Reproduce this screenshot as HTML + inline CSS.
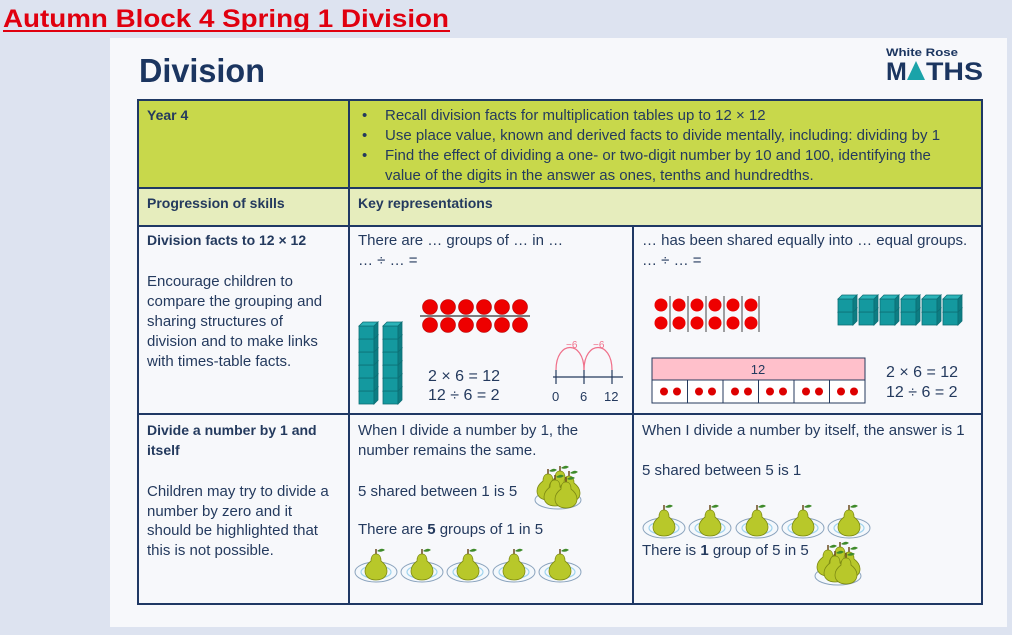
<!DOCTYPE html>
<html><head><meta charset="utf-8"><style>
html,body{margin:0;padding:0;background:#dde3f0;}
svg{display:block}
text{font-family:"Liberation Sans",sans-serif;fill:#243a5e;font-size:15px}
.b{font-weight:bold;font-size:14px}
.eq{font-size:16px}
</style></head><body>
<svg width="1012" height="635" viewBox="0 0 1012 635" xmlns="http://www.w3.org/2000/svg">
<defs>
<g id="pear">
<path d="M0,-14 l0,-5" stroke="#6b4a1e" stroke-width="1.5"/>
<path d="M1,-17 q5,-4 8,-1 q-4,3 -8,1z" fill="#3f8a2a"/>
<path d="M0,-14 c-4,0 -5,4 -5,7 c-4,3 -6,6 -6,10 c0,6 5,9 11,9 c6,0 11,-3 11,-9 c0,-4 -2,-7 -6,-10 c0,-3 -1,-7 -5,-7z" fill="#b8c82a" stroke="#7d8a14" stroke-width="0.8"/>
</g>
<g id="plate">
<ellipse cx="0" cy="6" rx="21" ry="10" fill="#f4f8fc" stroke="#8aa3bd" stroke-width="1"/>
<ellipse cx="0" cy="6" rx="15" ry="6.5" fill="none" stroke="#9fd3ee" stroke-width="1.2"/>
<use href="#pear" x="0" y="2"/>
</g>
<g id="group">
<ellipse cx="0" cy="10" rx="23" ry="9" fill="#f4f8fc" stroke="#8aa3bd"/>
<use href="#pear" x="-10" y="-2"/>
<use href="#pear" x="2" y="-5"/>
<use href="#pear" x="11" y="0"/>
<use href="#pear" x="-3" y="4"/>
<use href="#pear" x="8" y="6"/>
</g>
<g id="cube">
<rect x="0" y="0" width="15" height="13" fill="#14999f" stroke="#0d6f75" stroke-width="0.8"/>
<path d="M0,0 l4,-4 h15 l-4,4z" fill="#2bb3b8" stroke="#0d6f75" stroke-width="0.8"/>
<path d="M15,0 l4,-4 v13 l-4,4z" fill="#0d7d83" stroke="#0d6f75" stroke-width="0.8"/>
</g>
</defs>

<text x="3" y="27" class="b" style="font-size:25px;fill:#e0000f" textLength="446" lengthAdjust="spacingAndGlyphs">Autumn Block 4 Spring 1 Division</text>
<line x1="3" y1="31" x2="450" y2="31" stroke="#e0000f" stroke-width="2"/>

<rect x="110" y="38" width="897" height="589" fill="#f7f8fb"/>
<text x="139" y="82" class="b" style="font-size:33px;fill:#1b3560" textLength="126" lengthAdjust="spacingAndGlyphs">Division</text>
<text x="886" y="56" class="b" style="font-size:11px;fill:#1b3560" textLength="72" lengthAdjust="spacingAndGlyphs">White Rose</text>
<text x="886" y="80" class="b" style="font-size:25px;fill:#1b3560">M</text>
<path d="M907,80 l9,-19 l9,19z" fill="#1aa3a9"/>
<text x="926" y="80" class="b" style="font-size:25px;fill:#1b3560" textLength="57" lengthAdjust="spacingAndGlyphs">THS</text>

<rect x="138" y="100" width="844" height="88" fill="#c8d84b"/>
<rect x="138" y="188" width="844" height="38" fill="#e6edbd"/>
<rect x="138" y="226" width="844" height="378" fill="#f7f8fb"/>
<g stroke="#1f3864" stroke-width="2" fill="none">
<rect x="138" y="100" width="844" height="504"/>
<line x1="138" y1="188" x2="982" y2="188"/>
<line x1="138" y1="226" x2="982" y2="226"/>
<line x1="138" y1="414" x2="982" y2="414"/>
<line x1="349" y1="100" x2="349" y2="604"/>
<line x1="633" y1="226" x2="633" y2="604"/>
</g>

<text x="147" y="120" class="b">Year 4</text>
<text x="362" y="120">•</text><text x="385" y="120">Recall division facts for multiplication tables up to 12 × 12</text>
<text x="362" y="140">•</text><text x="385" y="140">Use place value, known and derived facts to divide mentally, including: dividing by 1</text>
<text x="362" y="160">•</text><text x="385" y="160">Find the effect of dividing a one- or two-digit number by 10 and 100, identifying the</text>
<text x="385" y="180">value of the digits in the answer as ones, tenths and hundredths.</text>
<text x="147" y="208" class="b">Progression of skills</text>
<text x="358" y="208" class="b">Key representations</text>

<text x="147" y="245" class="b">Division facts to 12 × 12</text>
<text x="147" y="286">Encourage children to</text>
<text x="147" y="306">compare the grouping and</text>
<text x="147" y="326">sharing structures of</text>
<text x="147" y="346">division and to make links</text>
<text x="147" y="366">with times-table facts.</text>

<text x="358" y="245">There are … groups of … in …</text>
<text x="358" y="265">… ÷ … =</text>
<g fill="#ee0000" stroke="#b00000" stroke-width="0.6">
<circle cx="430" cy="307" r="7.5"/><circle cx="448" cy="307" r="7.5"/><circle cx="466" cy="307" r="7.5"/><circle cx="484" cy="307" r="7.5"/><circle cx="502" cy="307" r="7.5"/><circle cx="520" cy="307" r="7.5"/>
<circle cx="430" cy="325" r="7.5"/><circle cx="448" cy="325" r="7.5"/><circle cx="466" cy="325" r="7.5"/><circle cx="484" cy="325" r="7.5"/><circle cx="502" cy="325" r="7.5"/><circle cx="520" cy="325" r="7.5"/>
</g>
<line x1="420" y1="316" x2="530" y2="316" stroke="#333" stroke-width="1.2"/>
<g>
<use href="#cube" x="359" y="391"/><use href="#cube" x="359" y="378"/><use href="#cube" x="359" y="365"/><use href="#cube" x="359" y="352"/><use href="#cube" x="359" y="339"/><use href="#cube" x="359" y="326"/>
<use href="#cube" x="383" y="391"/><use href="#cube" x="383" y="378"/><use href="#cube" x="383" y="365"/><use href="#cube" x="383" y="352"/><use href="#cube" x="383" y="339"/><use href="#cube" x="383" y="326"/>
</g>
<text x="428" y="381" class="eq">2 × 6 = 12</text>
<text x="428" y="400" class="eq">12 ÷ 6 = 2</text>
<g stroke="#243a5e" stroke-width="1.2">
<line x1="553" y1="377" x2="623" y2="377"/>
<line x1="556" y1="370" x2="556" y2="384"/><line x1="584" y1="370" x2="584" y2="384"/><line x1="612" y1="370" x2="612" y2="384"/>
</g>
<g stroke="#f0708a" stroke-width="1.2" fill="none">
<path d="M612,370 C612,340 584,340 584,370"/>
<path d="M584,370 C584,340 556,340 556,370"/>
</g>
<text x="566" y="348" style="font-size:10px;fill:#f0708a">−6</text>
<text x="593" y="348" style="font-size:10px;fill:#f0708a">−6</text>
<text x="552" y="401" style="font-size:13px">0</text>
<text x="580" y="401" style="font-size:13px">6</text>
<text x="604" y="401" style="font-size:13px">12</text>

<text x="642" y="245">… has been shared equally into … equal groups.</text>
<text x="642" y="265">… ÷ … =</text>
<g fill="#ee0000">
<circle cx="661" cy="305" r="6.5"/><circle cx="679" cy="305" r="6.5"/><circle cx="697" cy="305" r="6.5"/><circle cx="715" cy="305" r="6.5"/><circle cx="733" cy="305" r="6.5"/><circle cx="751" cy="305" r="6.5"/>
<circle cx="661" cy="323" r="6.5"/><circle cx="679" cy="323" r="6.5"/><circle cx="697" cy="323" r="6.5"/><circle cx="715" cy="323" r="6.5"/><circle cx="733" cy="323" r="6.5"/><circle cx="751" cy="323" r="6.5"/>
</g>
<g stroke="#444" stroke-width="1">
<line x1="670" y1="296" x2="670" y2="332"/><line x1="688" y1="296" x2="688" y2="332"/><line x1="706" y1="296" x2="706" y2="332"/><line x1="724" y1="296" x2="724" y2="332"/><line x1="742" y1="296" x2="742" y2="332"/><line x1="759" y1="296" x2="759" y2="332"/>
</g>
<g>
<use href="#cube" x="838" y="312"/><use href="#cube" x="838" y="299"/>
<use href="#cube" x="859" y="312"/><use href="#cube" x="859" y="299"/>
<use href="#cube" x="880" y="312"/><use href="#cube" x="880" y="299"/>
<use href="#cube" x="901" y="312"/><use href="#cube" x="901" y="299"/>
<use href="#cube" x="922" y="312"/><use href="#cube" x="922" y="299"/>
<use href="#cube" x="943" y="312"/><use href="#cube" x="943" y="299"/>
</g>
<rect x="652" y="358" width="213" height="22" fill="#ffc0cb" stroke="#243a5e" stroke-width="1"/>
<text x="758" y="374" text-anchor="middle" style="font-size:13px">12</text>
<rect x="652" y="380" width="213" height="23" fill="#fff" stroke="#243a5e" stroke-width="1"/>
<g stroke="#243a5e" stroke-width="1">
<line x1="687.5" y1="380" x2="687.5" y2="403"/><line x1="723" y1="380" x2="723" y2="403"/><line x1="758.5" y1="380" x2="758.5" y2="403"/><line x1="794" y1="380" x2="794" y2="403"/><line x1="829.5" y1="380" x2="829.5" y2="403"/>
</g>
<g fill="#dd0000">
<circle cx="664" cy="391.5" r="4"/><circle cx="677" cy="391.5" r="4"/>
<circle cx="699" cy="391.5" r="4"/><circle cx="712" cy="391.5" r="4"/>
<circle cx="735" cy="391.5" r="4"/><circle cx="748" cy="391.5" r="4"/>
<circle cx="770" cy="391.5" r="4"/><circle cx="783" cy="391.5" r="4"/>
<circle cx="806" cy="391.5" r="4"/><circle cx="819" cy="391.5" r="4"/>
<circle cx="841" cy="391.5" r="4"/><circle cx="854" cy="391.5" r="4"/>
</g>
<text x="886" y="377" class="eq">2 × 6 = 12</text>
<text x="886" y="397" class="eq">12 ÷ 6 = 2</text>

<text x="147" y="435" class="b">Divide a number by 1 and</text>
<text x="147" y="455" class="b">itself</text>
<text x="147" y="496">Children may try to divide a</text>
<text x="147" y="516">number by zero and it</text>
<text x="147" y="535">should be highlighted that</text>
<text x="147" y="555">this is not possible.</text>

<text x="358" y="435">When I divide a number by 1, the</text>
<text x="358" y="455">number remains the same.</text>
<text x="358" y="496">5 shared between 1 is 5</text>
<use href="#group" x="558" y="490"/>
<text x="358" y="534">There are <tspan font-weight="bold">5</tspan> groups of 1 in 5</text>
<use href="#plate" x="376" y="566"/><use href="#plate" x="422" y="566"/><use href="#plate" x="468" y="566"/><use href="#plate" x="514" y="566"/><use href="#plate" x="560" y="566"/>

<text x="642" y="435">When I divide a number by itself, the answer is 1</text>
<text x="642" y="475">5 shared between 5 is 1</text>
<use href="#plate" x="664" y="522"/><use href="#plate" x="710" y="522"/><use href="#plate" x="757" y="522"/><use href="#plate" x="803" y="522"/><use href="#plate" x="849" y="522"/>
<text x="642" y="555">There is <tspan font-weight="bold">1</tspan> group of 5 in 5</text>
<use href="#group" x="838" y="566"/>
</svg>
</body></html>
